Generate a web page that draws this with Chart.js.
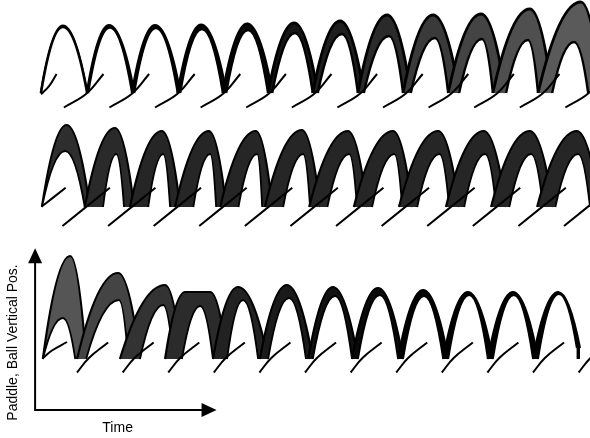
<!DOCTYPE html>
<html>
<head>
<meta charset="utf-8">
<title>Paddle and ball vertical position</title>
<script src="https://cdn.jsdelivr.net/npm/chart.js@4.4.0/dist/chart.umd.min.js"></script>
<style>
  html, body { margin: 0; padding: 0; background: #fff; }
  #wrap { width: 590px; height: 438px; }
</style>
</head>
<body>
<div id="wrap"><canvas id="bounce" width="590" height="438"></canvas></div>
<script>
// time in paddle periods, height in cm above the contact level of each row
// arcs: [take-off, crest time, crest height, landing(, landing height)]
// outer = highest / widest trajectory of the bundle, inner = lowest one

// top row: runs drift apart after a few bounces
const row1Outer = [
  [0.00, 0.48, 6.70, 1.01],
  [1.01, 1.49, 6.75, 2.04],
  [2.00, 2.50, 6.75, 3.05],
  [3.00, 3.51, 6.80, 4.06],
  [3.99, 4.52, 6.90, 5.07],
  [4.98, 5.55, 7.00, 6.07],
  [5.96, 6.56, 7.20, 7.08],
  [6.95, 7.59, 7.80, 8.11],
  [7.94, 8.60, 7.80, 9.17],
  [8.93, 9.65, 7.90, 10.18],
  [9.91, 10.72, 8.40, 11.21],
  [10.90, 11.84, 9.10, 12.30]
];
const row1Inner = [
  [0.00, 0.48, 6.60, 1.01],
  [1.03, 1.51, 6.55, 2.00],
  [2.04, 2.52, 6.50, 3.00],
  [3.05, 3.53, 6.40, 3.99],
  [4.06, 4.54, 6.30, 4.98],
  [5.07, 5.57, 6.00, 5.96],
  [6.07, 6.60, 5.90, 6.95],
  [7.08, 7.63, 5.70, 7.94],
  [8.11, 8.64, 5.50, 8.93],
  [9.17, 9.67, 5.40, 9.91],
  [10.20, 10.68, 5.30, 10.90],
  [11.21, 11.69, 5.10, 12.00]
];
const row1Paddle = [
  [[0.00, -0.13], [0.18, 0.72], [0.34, 1.90]],
  [[0.50, -1.45], [1.00, -0.05], [1.37, 1.90]],
  [[1.50, -1.45], [2.00, -0.05], [2.37, 1.90]],
  [[2.50, -1.45], [3.00, -0.05], [3.37, 1.90]],
  [[3.50, -1.45], [4.00, -0.05], [4.37, 1.90]],
  [[4.50, -1.45], [5.00, -0.05], [5.37, 1.90]],
  [[5.50, -1.45], [6.00, -0.05], [6.37, 1.90]],
  [[6.50, -1.45], [7.00, -0.05], [7.37, 1.90]],
  [[7.50, -1.45], [8.00, -0.05], [8.37, 1.90]],
  [[8.50, -1.45], [9.00, -0.05], [9.37, 1.90]],
  [[9.50, -1.45], [10.00, -0.05], [10.37, 1.90]],
  [[10.50, -1.45], [11.00, -0.05], [11.37, 1.90]],
  [[11.50, -1.45], [12.00, -0.05], [12.37, 1.90]]
];

// middle row: steady bundle
const row2Outer = [
  [0.02, 0.56, 8.20, 1.07],
  [0.96, 1.62, 7.90, 2.04],
  [1.95, 2.65, 7.60, 3.05],
  [2.94, 3.68, 7.60, 4.06],
  [3.93, 4.71, 7.60, 5.07],
  [4.91, 5.72, 7.70, 6.12],
  [5.88, 6.73, 7.60, 7.15],
  [6.86, 7.72, 7.60, 8.14],
  [7.85, 8.71, 7.60, 9.17],
  [8.88, 9.71, 7.60, 10.20],
  [9.87, 10.72, 7.60, 11.23],
  [10.88, 11.75, 7.60, 12.26]
];
const row2Inner = [
  [0.02, 0.53, 5.60, 0.96],
  [1.36, 1.65, 5.30, 1.82],
  [2.35, 2.68, 5.30, 2.83],
  [3.34, 3.71, 5.30, 3.84],
  [4.33, 4.74, 5.30, 4.85],
  [5.31, 5.75, 5.30, 5.90],
  [6.28, 6.76, 5.30, 6.93],
  [7.26, 7.75, 5.30, 7.92],
  [8.25, 8.74, 5.30, 8.95],
  [9.28, 9.74, 5.30, 9.98],
  [10.27, 10.75, 5.30, 11.01],
  [11.28, 11.78, 5.30, 12.04]
];
const row2Paddle = [
  [[0.03, 0.10], [0.54, 1.93]],
  [[0.47, -1.90], [1.51, 1.93]],
  [[1.47, -1.90], [2.51, 1.93]],
  [[2.47, -1.90], [3.51, 1.93]],
  [[3.47, -1.90], [4.51, 1.93]],
  [[4.47, -1.90], [5.51, 1.93]],
  [[5.47, -1.90], [6.51, 1.93]],
  [[6.47, -1.90], [7.51, 1.93]],
  [[7.47, -1.90], [8.51, 1.93]],
  [[8.47, -1.90], [9.51, 1.93]],
  [[9.47, -1.90], [10.51, 1.93]],
  [[10.47, -1.90], [11.51, 1.93]],
  [[11.47, -1.90], [12.51, 1.93]]
];

// bottom row: bundle collapses onto one orbit
const row3Outer = [
  [0.04, 0.64, 10.30, 0.99],
  [0.79, 1.69, 8.60, 2.17],
  [1.73, 2.72, 7.40, 3.09],
  [2.72, [3.16, 3.71], 6.70, 4.08],
  [3.77, 4.32, 7.20, 4.98],
  [4.80, 5.39, 7.40, 5.96],
  [5.86, 6.40, 7.20, 6.95],
  [6.82, 7.39, 7.10, 7.94],
  [7.83, 8.38, 6.90, 8.93],
  [8.82, 9.36, 6.70, 9.91],
  [9.80, 10.35, 6.70, 10.90],
  [10.79, 11.34, 6.70, 11.82, 1.10]
];
const row3Inner = [
  [0.04, 0.48, 4.10, 0.75],
  [0.99, 1.71, 5.90, 1.91],
  [2.17, 2.68, 5.40, 2.90],
  [3.09, 3.49, 5.30, 3.77],
  [4.08, 4.43, 5.90, 4.76],
  [4.98, 5.44, 6.10, 5.81],
  [5.96, 6.45, 6.30, 6.82],
  [6.95, 7.43, 6.40, 7.83],
  [7.94, 8.40, 6.30, 8.82],
  [8.93, 9.39, 6.40, 9.80],
  [9.91, 10.37, 6.40, 10.79],
  [10.90, 11.36, 6.50, 11.75, 1.10]
];
const row3Paddle = [
  [[0.04, 0.10], [0.24, 0.85], [0.57, 1.70]],
  [[0.79, -1.35], [1.05, 0.10], [1.47, 1.65]],
  [[1.79, -1.35], [2.05, 0.10], [2.47, 1.65]],
  [[2.79, -1.35], [3.05, 0.10], [3.47, 1.65]],
  [[3.79, -1.35], [4.05, 0.10], [4.47, 1.65]],
  [[4.79, -1.35], [5.05, 0.10], [5.47, 1.65]],
  [[5.79, -1.35], [6.05, 0.10], [6.47, 1.65]],
  [[6.79, -1.35], [7.05, 0.10], [7.47, 1.65]],
  [[7.79, -1.35], [8.05, 0.10], [8.47, 1.65]],
  [[8.79, -1.35], [9.05, 0.10], [9.47, 1.65]],
  [[9.79, -1.35], [10.05, 0.10], [10.47, 1.65]],
  [[10.79, -1.35], [11.05, 0.10], [11.47, 1.65]],
  [[11.79, -1.35], [12.05, 0.10], [12.47, 1.65]]
];

// grey of each bundle (dense overlapping runs)
const row1Shade = ['#000', '#000', '#000', '#000', '#0a0a0a', '#151515', '#1e1e1e', '#2a2a2a', '#3a3a3a', '#444', '#4f4f4f', '#5a5a5a'];
const row2Shade = ['#2e2e2e', '#2a2a2a', '#262626', '#262626', '#262626', '#262626', '#262626', '#262626', '#262626', '#262626', '#262626', '#262626'];
const row3Shade = ['#555', '#444', '#333', '#2b2b2b', '#222', '#1a1a1a', '#111', '#0a0a0a', '#000', '#000', '#000', '#000'];

// the axis sketch under the bottom row (time, cm on row 3 scale)
const axisOriginT = -0.13, axisOriginY = -5.1;
const axisTopY = 11.07, axisEndT = 3.85;
const timeLabelT = 1.68, heightLabelY = 1.65;

function arcPoints(a) {
  const [t0, tc, yc, t1, y1 = 0] = a;
  const crest = Array.isArray(tc) ? tc.map(t => ({x: t, y: yc})) : [{x: tc, y: yc}];
  return [{x: t0, y: 0}, ...crest, {x: t1, y: y1}];
}

const datasets = [];
function addRow(axis, outer, inner, shade, paddle, width) {
  outer.forEach((arc, k) => {
    datasets.push({
      arc: true, yAxisID: axis, data: arcPoints(arc), borderColor: '#000', borderWidth: width,
      fill: 'origin', backgroundColor: shade[k], tension: 0.4
    });
    datasets.push({
      arc: true, yAxisID: axis, data: arcPoints(inner[k]), borderColor: '#000', borderWidth: width - 0.4,
      fill: 'origin', backgroundColor: '#fff', tension: 0.4
    });
  });
  paddle.forEach(seg => {
    datasets.push({
      yAxisID: axis, data: seg.map(([x, y]) => ({x, y})), borderColor: '#000',
      borderWidth: 2, fill: false, tension: 0.4
    });
  });
}
addRow('y1', row1Outer, row1Inner, row1Shade, row1Paddle, 2.8);
addRow('y2', row2Outer, row2Inner, row2Shade, row2Paddle, 2.2);
addRow('y3', row3Outer, row3Inner, row3Shade, row3Paddle, 2.2);
// draw in push order (lower order is drawn last)
datasets.forEach((d, i) => { d.order = -i; });

// free flight: bend each arc like a thrown ball (steep at the paddle,
// flat at the crest) instead of the default spline
const ballisticArcs = {
  id: 'ballisticArcs',
  afterDatasetsUpdate(chart) {
    chart.data.datasets.forEach((ds, i) => {
      if (!ds.arc) return;
      const line = chart.getDatasetMeta(i).dataset;
      line.updateControlPoints(chart.chartArea, 'x');
      const pts = line.points;
      const n = pts.length - 1;
      const a = pts[0], c1 = pts[1], c2 = pts[n - 1], b = pts[n];
      a.cp2x = a.x + (c1.x - a.x) / 3;
      a.cp2y = a.y + 2 * (c1.y - a.y) / 3;
      c1.cp1x = c1.x - (c1.x - a.x) / 3;
      c1.cp1y = c1.y;
      c2.cp2x = c2.x + (b.x - c2.x) / 3;
      c2.cp2y = c2.y;
      b.cp1x = b.x - (b.x - c2.x) / 3;
      b.cp1y = b.y + 2 * (c2.y - b.y) / 3;
      if (c1 !== c2) {
        c1.cp2x = c1.x + (c2.x - c1.x) / 3;
        c1.cp2y = c1.y;
        c2.cp1x = c2.x - (c2.x - c1.x) / 3;
        c2.cp1y = c2.y;
      }
    });
  }
};

const axisSketch = {
  id: 'axisSketch',
  afterDraw(chart) {
    const {ctx, scales: {x, y3}} = chart;
    const ox = x.getPixelForValue(axisOriginT);
    const oy = y3.getPixelForValue(axisOriginY);
    const top = y3.getPixelForValue(axisTopY);
    const end = x.getPixelForValue(axisEndT);
    ctx.save();
    ctx.strokeStyle = '#000';
    ctx.fillStyle = '#000';
    ctx.lineWidth = 2;
    ctx.beginPath();
    ctx.moveTo(ox, oy + 1);
    ctx.lineTo(ox, top + 10);
    ctx.moveTo(ox - 1, oy);
    ctx.lineTo(end - 10, oy);
    ctx.stroke();
    ctx.beginPath();
    ctx.moveTo(ox, top);
    ctx.lineTo(ox - 7, top + 15);
    ctx.lineTo(ox + 7, top + 15);
    ctx.closePath();
    ctx.fill();
    ctx.beginPath();
    ctx.moveTo(end, oy);
    ctx.lineTo(end - 15, oy - 7);
    ctx.lineTo(end - 15, oy + 7);
    ctx.closePath();
    ctx.fill();

    ctx.font = '14px "Liberation Sans", Arial, sans-serif';
    ctx.textAlign = 'center';
    ctx.textBaseline = 'alphabetic';
    ctx.fillText('Time', x.getPixelForValue(timeLabelT), oy + 22);
    ctx.translate(ox - 18.5, y3.getPixelForValue(heightLabelY));
    ctx.rotate(-Math.PI / 2);
    ctx.fillText('Paddle, Ball Vertical Pos.', 0, 0);
    ctx.restore();
  }
};

new Chart(document.getElementById('bounce'), {
  type: 'line',
  data: { datasets },
  options: {
    responsive: false,
    animation: false,
    events: [],
    devicePixelRatio: 1,
    layout: { padding: 0 },
    elements: { point: { radius: 0, hoverRadius: 0 } },
    plugins: { legend: { display: false }, tooltip: { enabled: false } },
    scales: {
      x: { type: 'linear', min: -0.9, max: 12.04, display: false },
      y1: { type: 'linear', min: -34.5, max: 9.3, display: false },
      y2: { type: 'linear', min: -23.1, max: 20.7, display: false },
      y3: { type: 'linear', min: -7.9, max: 35.9, display: false }
    }
  },
  plugins: [ballisticArcs, axisSketch]
});
</script>
</body>
</html>
